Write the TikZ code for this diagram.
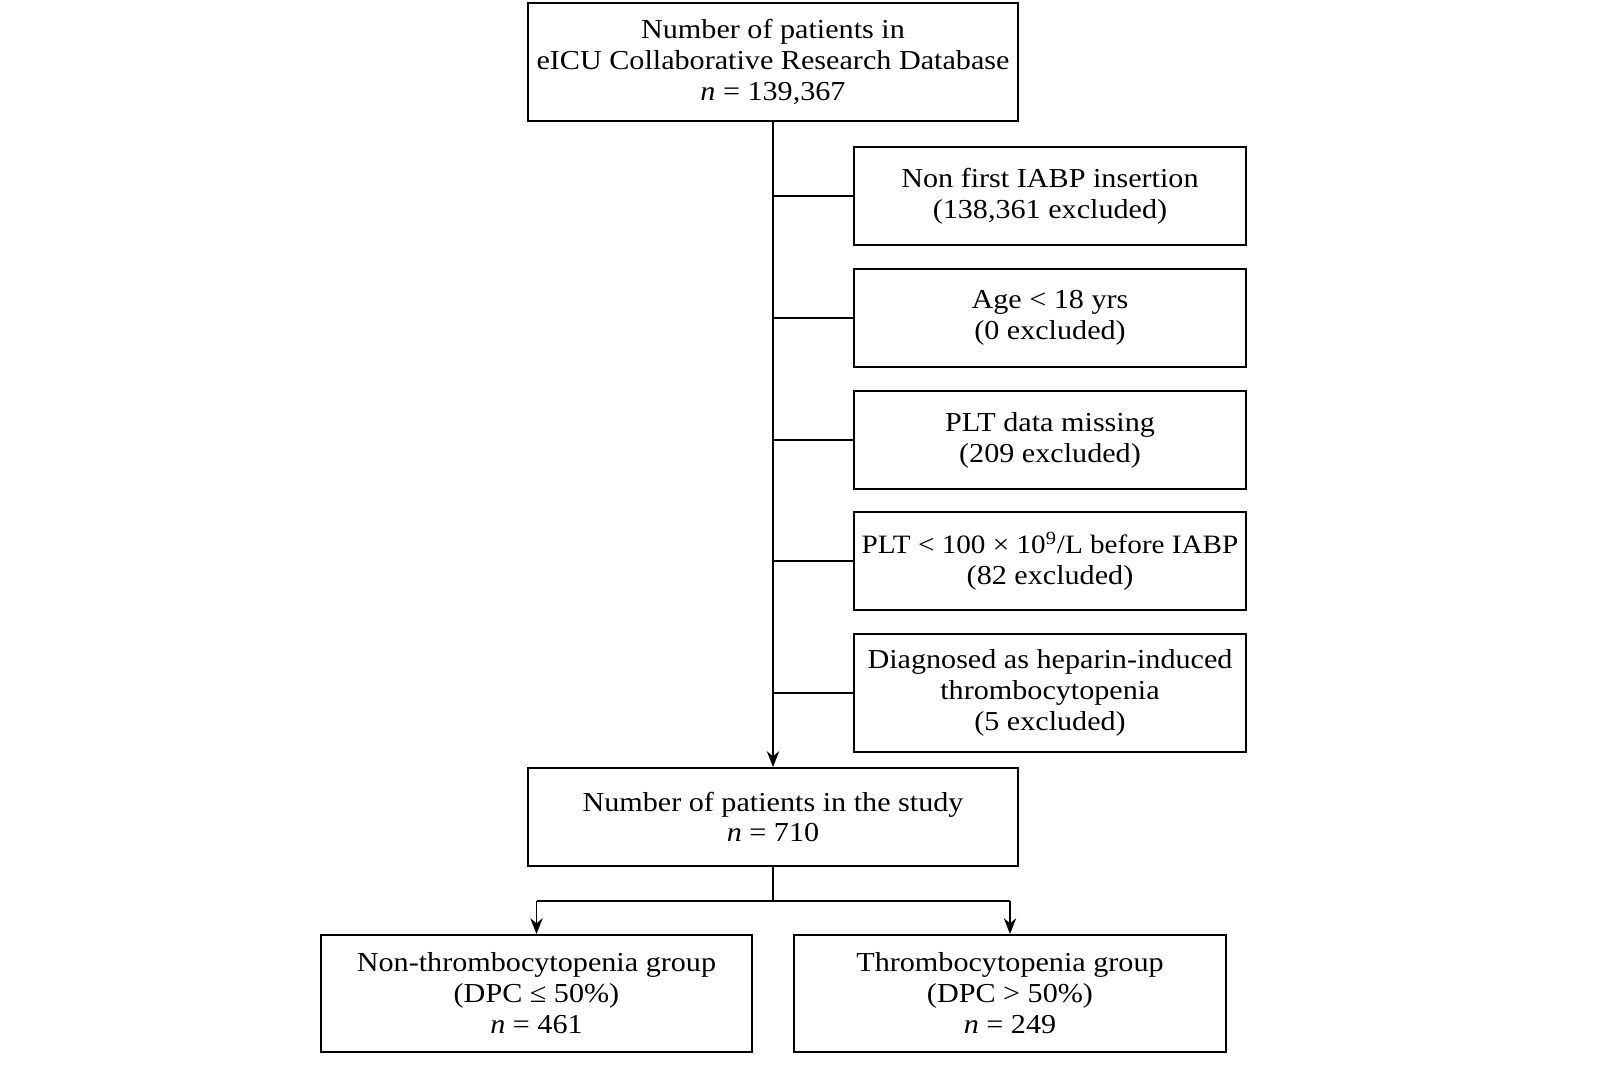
\documentclass[tikz,border=0pt]{standalone}
\usepackage{fontspec}
\setmainfont[FakeStretch=1.1]{Liberation Serif}
\usetikzlibrary{arrows.meta}
\begin{document}
\begin{tikzpicture}[x=0.02cm,y=-0.02cm,
  box/.style={draw,line width=1.1pt,align=center,inner sep=0pt,font=\fontsize{15.6}{17.6}\selectfont},
  conn/.style={line width=1.1pt},
  arr/.style={line width=1.1pt,-{Stealth[length=9pt,width=7pt]}}]
\useasboundingbox (0,0) rectangle (1600,1079);
\node[box,minimum width=490*0.02cm,minimum height=118*0.02cm] (top) at (773,62)
  {Number of patients in\\eICU Collaborative Research Database\\\textit{n} = 139,367};
\node[box,minimum width=392*0.02cm,minimum height=98*0.02cm] (e1) at (1050,196)
  {Non first IABP insertion\\(138,361 excluded)};
\node[box,minimum width=392*0.02cm,minimum height=98*0.02cm] (e2) at (1050,318)
  {Age < 18 yrs\\(0 excluded)};
\node[box,minimum width=392*0.02cm,minimum height=98*0.02cm] (e3) at (1050,440)
  {PLT data missing\\(209 excluded)};
\node[box,minimum width=392*0.02cm,minimum height=98*0.02cm] (e4) at (1050,561)
  {{\fontsize{15.1}{17.6}\selectfont PLT < 100 × 10\textsuperscript{9}/L before IABP}\\(82 excluded)};
\node[box,minimum width=392*0.02cm,minimum height=118*0.02cm] (e5) at (1050,693)
  {Diagnosed as heparin-induced\\thrombocytopenia\\(5 excluded)};
\node[box,minimum width=490*0.02cm,minimum height=98*0.02cm] (study) at (773,817)
  {Number of patients in the study\\\textit{n} = 710};
\node[box,minimum width=431*0.02cm,minimum height=117*0.02cm] (g1) at (536.5,993.5)
  {Non-thrombocytopenia group\\(DPC ≤ 50\%)\\\textit{n} = 461};
\node[box,minimum width=432*0.02cm,minimum height=117*0.02cm] (g2) at (1010,993.5)
  {Thrombocytopenia group\\(DPC > 50\%)\\\textit{n} = 249};
\draw[arr] (top.south) -- (study.north);
\foreach \e/\yy in {e1/196,e2/318,e3/440,e4/561,e5/693}
  \draw[conn] (773,\yy) -- (\e.west);
\coordinate (split) at (773,901);
\coordinate (sl) at (g1.north |- split);
\coordinate (sr) at (g2.north |- split);
\draw[conn] (study.south) -- (split);
\draw[conn] (sl) -- (sr);
\draw[arr] (sl) -- (g1.north);
\draw[arr] (sr) -- (g2.north);
\end{tikzpicture}
\end{document}
